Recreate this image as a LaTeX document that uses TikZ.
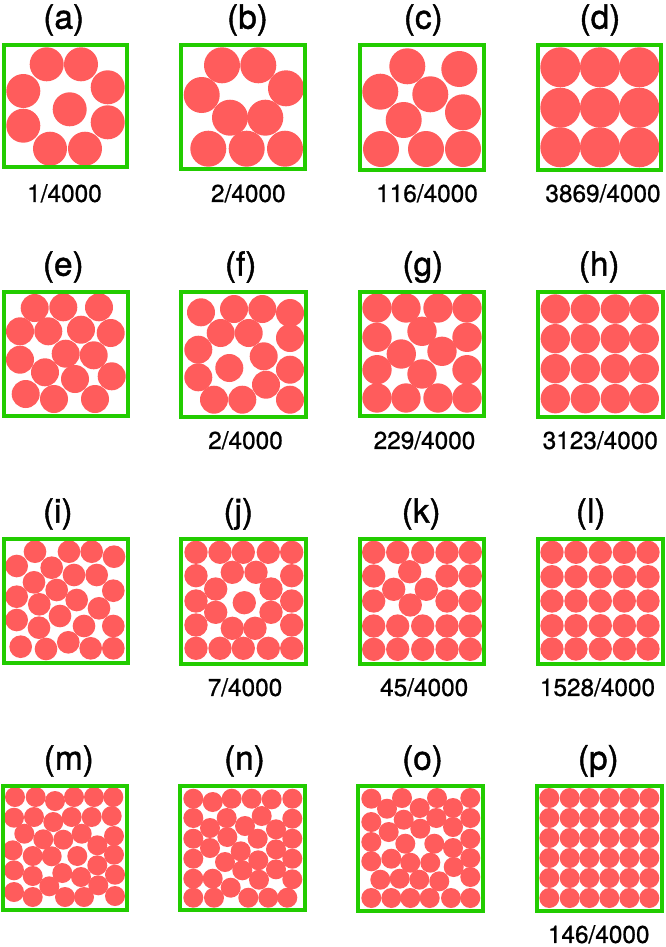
\documentclass[tikz,border=0pt]{standalone}
\usepackage{fontspec}
\setmainfont{TeX Gyre Heros}
\newfontfamily\titlefont[FakeBold=1.3]{TeX Gyre Heros}
\newfontfamily\countfont[FakeBold=0.9]{TeX Gyre Heros}
\definecolor{ballred}{RGB}{255,92,92}
\definecolor{boxgreen}{RGB}{34,204,0}
\begin{document}
\begin{tikzpicture}[x=0.03cm,y=-0.03cm,
  panel/.style={draw=boxgreen,line width=3.7pt},
  ball/.style={fill=ballred},
  title/.style={font=\titlefont\fontsize{28.5}{31}\selectfont,inner sep=0pt},
  count/.style={font=\countfont\fontsize{20.8}{24}\selectfont,inner sep=0pt}]
\useasboundingbox (0,0) rectangle (665,947);

% ---------- row 1 ----------
\foreach \x/\y in {46.7/64.3, 81/64.3, 107.7/87.3, 23.3/91, 69.7/109.3, 23.3/125.7, 107.7/122.3, 50/148.7, 85/148.7}
  \fill[ball] (\x,\y) circle[radius=0.51cm];
\foreach \x/\y in {222/65.3, 258.3/65.3, 286/88.3, 201.7/95, 230/117.7, 265.3/117.7, 208.3/148.7, 246.7/148.7, 285/148.7}
  \fill[ball] (\x,\y) circle[radius=0.54cm];
\foreach \x/\y in {407.3/66.3, 459.3/69, 380.3/91.7, 430.3/94.3, 463/112.3, 403.7/120, 381/149, 426/149, 463/149}
  \fill[ball] (\x,\y) circle[radius=0.54cm];
\foreach \x in {560.3,600,639.3}
  \foreach \y in {67.3,107.7,147.3}
    \fill[ball] (\x,\y) circle[radius=0.6cm];

\draw[panel] (3.7,44.7) rectangle (127.3,167.3);
\draw[panel] (181.3,44.7) rectangle (304.7,169.3);
\draw[panel] (359.7,45.3) rectangle (484.3,170.3);
\draw[panel] (538,45.3) rectangle (660.7,169.7);

\node[title] (ta) at (63.7,20) {(a)};
\node[title] (tb) at (247.5,20) {(b)};
\node[title] (tc) at (423.3,20) {(c)};
\node[title] (td) at (600,20) {(d)};
\node[count] (na) at (64.5,193.3) {1/4000};
\node[count] (nb) at (248.3,193.3) {2/4000};
\node[count] (nc) at (427,193.3) {116/4000};
\node[count] (nd) at (603,193.3) {3869/4000};

% ---------- row 2 ----------
\foreach \x/\y in {34.7/308, 63.3/307.3, 99/307.3, 20/331.3, 48.3/331.3, 81/329.7, 110.7/333, 20/359.7, 65.7/353.7, 93.7/355.3, 45/372.3, 75/379, 111.7/376.3, 25.7/394, 54/399, 95/399}
  \fill[ball] (\x,\y) circle[radius=0.42cm];
\foreach \x/\y in {201/312.3, 234/309, 262.3/309, 290/313, 220.7/333, 248.7/333, 290/338, 198.3/349.7, 263.7/356.3, 229.3/368, 290/369.7, 198.3/377.3, 266/384.7, 214/399.7, 242.3/399.7, 290/399.7}
  \fill[ball] (\x,\y) circle[radius=0.42cm];
\foreach \x/\y in {377/308, 406/308, 438/308, 467/308, 377/337.3, 467/337.3, 377/369.7, 467/369.7, 377/398, 406/398, 438/398, 467/398, 422/331.3, 401.3/354, 442/351.3, 422/374}
  \fill[ball] (\x,\y) circle[radius=0.44cm];
\foreach \x in {555.3,585.3,615.3,644.3}
  \foreach \y in {309,338.7,368.7,398.7}
    \fill[ball] (\x,\y) circle[radius=0.44cm];

\draw[panel] (3.7,291.7) rectangle (128,416);
\draw[panel] (181.3,291.7) rectangle (306.3,416.7);
\draw[panel] (359.7,291.7) rectangle (484.3,416);
\draw[panel] (538,291.7) rectangle (662.7,416.7);

\node[title] (te) at (63.3,267) {(e)};
\node[title] (tf) at (240.7,267) {(f)};
\node[title] (tg) at (422.8,267) {(g)};
\node[title] (th) at (599.2,267) {(h)};
\node[count] (nf) at (245.5,440.3) {2/4000};
\node[count] (ng) at (424.5,440.3) {229/4000};
\node[count] (nh) at (600.3,440.3) {3123/4000};

% ---------- row 3 ----------
\foreach \x/\y in {35/551.7, 69/551.7, 91.7/551.7, 114/556.7, 16.7/566, 51.7/567.7, 74/575, 96.7/575, 34/582.3, 56.7/590, 113.3/590.7, 16.7/596.7, 39.3/604.3, 76.7/600, 99/608.3, 60/616, 16.7/620, 39/627.7, 84/626, 113.3/626, 20.7/646.7, 46/649, 68.3/642.3, 90.7/648.3, 113.3/648.3}
  \fill[ball] (\x,\y) circle[radius=0.34cm];
\foreach \x in {196,220,243.3,268.3,291.7}
  {\fill[ball] (\x,552.3) circle[radius=0.35cm];
   \fill[ball] (\x,648.3) circle[radius=0.35cm];}
\foreach \y in {575.7,601,625}
  {\fill[ball] (196,\y) circle[radius=0.35cm];
   \fill[ball] (291.7,\y) circle[radius=0.35cm];}
\foreach \x/\y in {232.3/572.3, 256/572.3, 215.7/589, 271/589, 244.3/602.7, 215.7/612.3, 271/612.3, 232.3/628.3, 255/628.3}
  \fill[ball] (\x,\y) circle[radius=0.35cm];
\foreach \x/\y in {373.7/552.3, 397.7/552.3, 422.7/552.3, 447/552.3, 470.3/552.3,
                   373.7/576, 447/576, 470.3/576,
                   373.7/601, 447/601, 470.3/601,
                   373.7/626, 397.7/626, 422.7/626, 447/626, 470.3/626,
                   373.7/649.3, 397.7/649.3, 422.7/649.3, 447/649.3, 470.3/649.3,
                   409.7/571.7, 393.7/589.3, 426.3/589.3, 410.3/605}
  \fill[ball] (\x,\y) circle[radius=0.35cm];
\foreach \x in {552,576,600.3,624.3,648}
  \foreach \y in {552.3,576.7,601,625.7,649}
    \fill[ball] (\x,\y) circle[radius=0.35cm];

\draw[panel] (3.7,538.7) rectangle (128,663);
\draw[panel] (181.3,538.7) rectangle (306.3,663.7);
\draw[panel] (359.7,538.7) rectangle (484.3,663.7);
\draw[panel] (538,538.7) rectangle (662.7,663.7);

\node[title] (ti) at (57.8,514) {(i)};
\node[title] (tj) at (238.3,514) {(j)};
\node[title] (tk) at (421.2,514) {(k)};
\node[title] (tl) at (590.7,514) {(l)};
\node[count] (nj) at (245,687.3) {7/4000};
\node[count] (nk) at (424.2,687.3) {45/4000};
\node[count] (nl) at (597.5,687.3) {1528/4000};

% ---------- row 4 ----------
\foreach \x/\y in {15/797, 35.7/797, 55/801, 74/797, 94/797, 113.3/797,
                   14/817.7, 34/817, 53.3/822, 71.7/817, 91.7/817, 111.7/816,
                   24.3/833.7, 43.3/839.3, 63.3/839.7, 81.7/833.7, 114/836,
                   12.7/850.3, 32.7/856, 51.7/856.3, 77.3/856, 97.3/845.3, 114/854.7,
                   14/870.3, 32.7/876, 62.3/873, 81/877, 97.3/865.3, 115/874.7,
                   14/892, 32.7/897, 49.3/886.3, 65/897, 84/897, 98.3/885.3, 115/896}
  \fill[ball] (\x,\y) circle[radius=0.3cm];
\foreach \x/\y in {193.3/798.7, 212.7/802, 231.7/798.7, 251.7/798.7, 271.7/799.3, 292.3/798.7,
                   193.3/818, 226.7/818, 261.7/816, 292.3/818.7,
                   210/828, 245/826, 276/829.3,
                   193.3/838.7, 227.3/837, 257.7/838.7, 292.3/838.7,
                   210/848, 240.7/851.3, 276/849.3,
                   193.3/858.7, 225/862, 258.3/860.3, 292.3/858.7,
                   242.3/870.3, 276/869.3,
                   193.3/878.7, 212.7/878.7, 230.7/887.7, 259/879.7, 292.3/879.3,
                   193.3/897.7, 214/897.7, 248.3/897.7, 268.3/897.7, 287.3/897.7}
  \fill[ball] (\x,\y) circle[radius=0.3cm];
\foreach \x/\y in {371.3/798.7, 402/798, 437/798, 470.3/798,
                   387/808.7, 419.7/808, 453/808,
                   371.3/822, 403.7/819.7, 436.3/818, 470.3/818,
                   388.7/832, 420.3/828.7, 453/827,
                   371.3/842, 405.3/843.7, 434.3/843.7, 470.3/838.7,
                   453/848,
                   371.3/861.3, 391.3/858.7, 410.3/862.7, 430.3/862.7, 470.3/858,
                   453.7/867,
                   380.3/879.7, 399.7/878.7, 419.3/879.7, 439.3/881.3, 470.3/877,
                   371.3/898, 391.3/898, 410.3/898, 429.7/898, 451/898, 470.3/898}
  \fill[ball] (\x,\y) circle[radius=0.3cm];
\foreach \x in {549.3,569.7,589.3,609.3,629.3,649.3}
  \foreach \y in {798,818,838,858,878,898}
    \fill[ball] (\x,\y) circle[radius=0.3cm];

\draw[panel] (2.7,785.7) rectangle (127.3,910);
\draw[panel] (180.3,785.7) rectangle (304.7,910);
\draw[panel] (358.3,785.7) rectangle (483.3,910.7);
\draw[panel] (537.3,785.7) rectangle (661.7,910.7);

\node[title] (tm) at (68.8,761) {(m)};
\node[title] (tn) at (244.5,761) {(n)};
\node[title] (to) at (422.5,761) {(o)};
\node[title] (tp) at (598.3,761) {(p)};
\node[count] (np) at (598.7,934.3) {146/4000};
\end{tikzpicture}
\end{document}
